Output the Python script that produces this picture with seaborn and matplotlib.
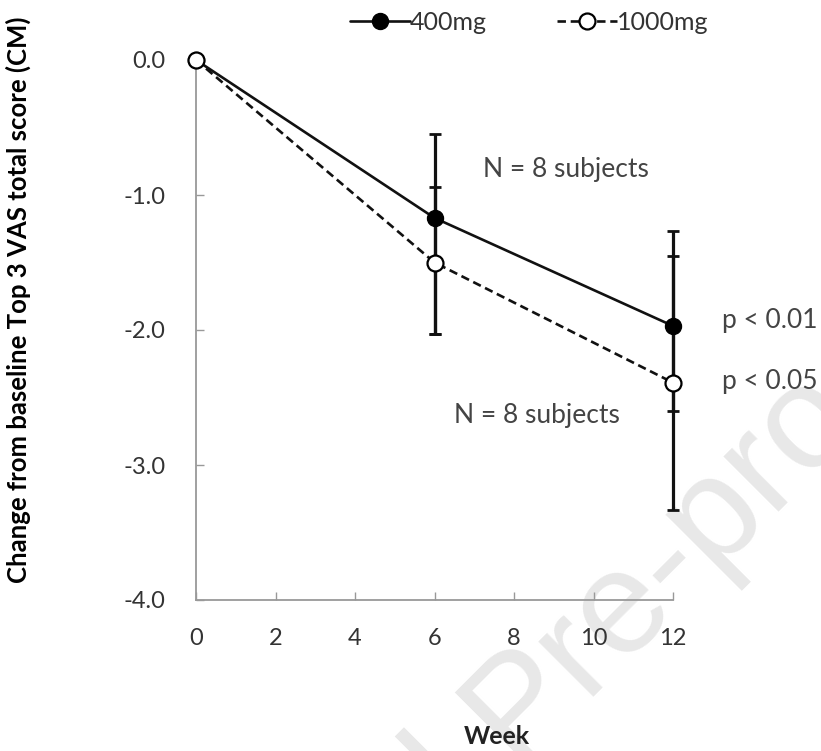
import matplotlib
matplotlib.use("Agg")
import matplotlib.pyplot as plt
from matplotlib.lines import Line2D
import seaborn as sns
import pandas as pd

# ---- data ----
weeks = [0, 6, 12]
mean_400 = [0.0, -1.17, -1.97]
err_400_low = [0.0, 0.86, 0.63]
err_400_up = [0.0, 0.62, 0.70]
mean_1000 = [0.0, -1.50, -2.39]
err_1000_low = [0.0, 0.53, 0.94]
err_1000_up = [0.0, 0.56, 0.94]
doses = ["400mg", "1000mg"]
x_ticks = [0, 2, 4, 6, 8, 10, 12]
y_ticks = [0.0, -1.0, -2.0, -3.0, -4.0]

df = pd.DataFrame({
    "Week": weeks + weeks,
    "Change": mean_400 + mean_1000,
    "Dose": [doses[0]] * 3 + [doses[1]] * 3,
})

sns.set_theme(style="white")
plt.rcParams["font.family"] = ["Lato", "DejaVu Sans"]

fig = plt.figure(figsize=(8.21, 7.51), dpi=100)
ax = fig.add_axes([196 / 821, 1 - 600 / 751, (673 - 196) / 821, 540 / 751])
ax.set_facecolor("none")

# watermark
wm_kw = dict(rotation=45, fontsize=106, color="#e8e8e8", zorder=-1,
             rotation_mode="anchor", va="baseline", family="Liberation Sans")
fig.text(515 / 821, 1 - 764 / 751, "Pre-proof", ha="left", **wm_kw)
fig.text(486 / 821, 1 - 793 / 751, "Journal", ha="right", **wm_kw)

# error bars
ax.errorbar(weeks, mean_400, yerr=[err_400_low, err_400_up], fmt="none",
            ecolor="#111111", elinewidth=2.3, capsize=4, capthick=2, zorder=2,
            clip_on=False)
ax.errorbar(weeks, mean_1000, yerr=[err_1000_low, err_1000_up], fmt="none",
            ecolor="#111111", elinewidth=2.3, capsize=4, capthick=2, zorder=2,
            clip_on=False)

sns.lineplot(data=df, x="Week", y="Change", hue="Dose", style="Dose",
             palette={"400mg": "#111111", "1000mg": "#111111"},
             dashes={"400mg": "", "1000mg": (3.2, 1.8)},
             markers={"400mg": "o", "1000mg": "o"},
             linewidth=1.9, markersize=0, legend=False, ax=ax, zorder=3)
for ln in ax.lines:
    ln.set_clip_on(False)

# markers
ax.plot(weeks, mean_400, linestyle="none", marker="o", markersize=11.5,
        markerfacecolor="black", markeredgecolor="black", zorder=4, clip_on=False)
ax.plot(weeks, mean_1000, linestyle="none", marker="o", markersize=11.5,
        markerfacecolor="white", markeredgecolor="black", markeredgewidth=1.6,
        zorder=5, clip_on=False)

ax.set_xlim(0, 12)
ax.set_ylim(-4, 0)
ax.set_xticks(x_ticks)
ax.set_xticklabels([str(t) for t in x_ticks])
ax.set_yticks(y_ticks)
ax.set_yticklabels([f"{t:.1f}" for t in y_ticks])
ax.tick_params(axis="both", direction="in", length=6, width=1, color="#999999",
               labelsize=17, labelcolor="#333333", left=True, bottom=True)
ax.tick_params(axis="x", pad=20)
ax.tick_params(axis="y", pad=22)
for s in ["top", "right"]:
    ax.spines[s].set_visible(False)
for s in ["left", "bottom"]:
    ax.spines[s].set_color("#999999")
    ax.spines[s].set_linewidth(1.3)
ax.set_xlabel("")
ax.set_ylabel("")

fig.text(18 / 821, 1 - 300 / 751, "Change from baseline Top 3 VAS total score (CM)",
         rotation=90, ha="center", va="center", fontsize=18.5, fontweight="bold",
         color="black")
fig.text(497 / 821, 1 - 737 / 751, "Week", ha="center", va="center",
         fontsize=18, fontweight="bold", color="#222222")

# annotations
ann = dict(fontsize=19, color="#444444", va="center")
ax.text(9.3, -0.81, "N = 8 subjects", ha="center", **ann)
ax.text(8.58, -2.63, "N = 8 subjects", ha="center", **ann)
ax.text(13.23, -1.93, "p < 0.01", ha="left", clip_on=False, **ann)
ax.text(13.23, -2.38, "p < 0.05", ha="left", clip_on=False, **ann)

handles = [
    Line2D([], [], color="#111111", linewidth=1.9, marker="o", markersize=11.5,
           markerfacecolor="black", markeredgecolor="black"),
    Line2D([], [], color="#111111", linewidth=1.9, linestyle=(0, (3.2, 1.8)), marker="o",
           markersize=11.5, markerfacecolor="white", markeredgecolor="black",
           markeredgewidth=1.6),
]
fig.legend(handles, doses, loc="center", bbox_to_anchor=(529 / 821, 1 - 22 / 751),
           ncol=2, frameon=False, fontsize=18, handlelength=2.4,
           handletextpad=0.0, columnspacing=2.8, labelcolor="#333333")

fig.savefig("out.png", dpi=100)
